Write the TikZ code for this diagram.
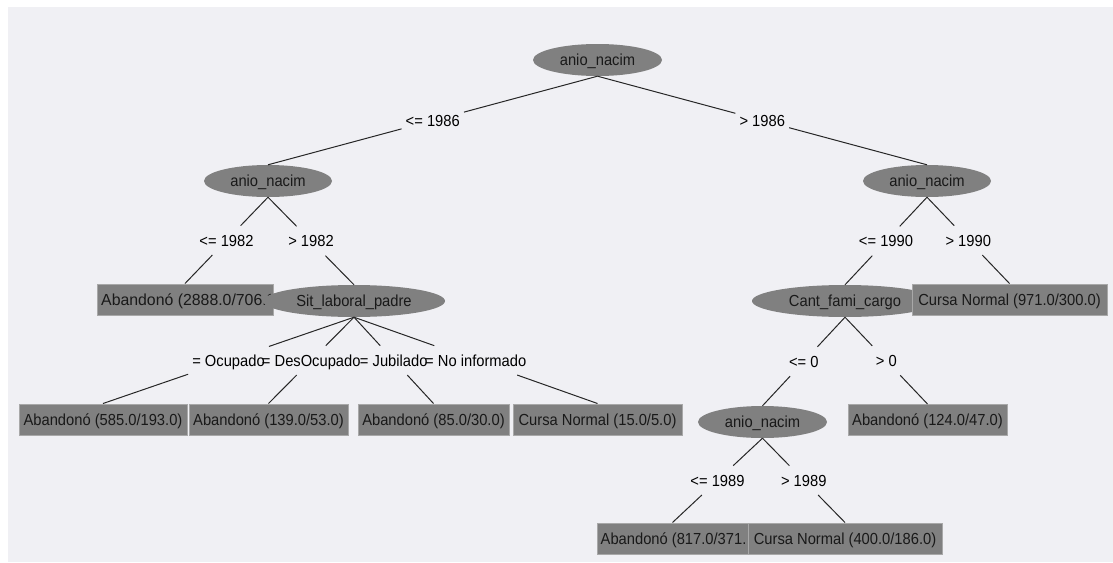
\documentclass[tikz,border=0pt]{standalone}
\usepackage{fontspec}
\setmainfont{Liberation Sans}[FakeStretch=0.92]
\newfontfamily\widefont{Liberation Sans}[FakeStretch=0.99]
\usetikzlibrary{shapes.geometric}
\definecolor{bgc}{RGB}{240,240,244}
\definecolor{nodegray}{RGB}{128,128,128}
\definecolor{boxline}{RGB}{168,168,168}
\definecolor{txt}{RGB}{25,25,25}
\newcommand\tbranch[4]{%
  \path (#1.south) -- (#2.north) node[lbl, midway] (#3) {#4};
  \draw[edgeline] (#1.south) -- (#3);
  \draw[edgeline] (#3) -- (#2.north);
}
\begin{document}
\begin{tikzpicture}[x=1pt,y=-1pt,
  every node/.style={font=\fontsize{16pt}{18pt}\selectfont, text=txt, text height=11.4pt, text depth=0pt},
  attr/.style={ellipse, fill=nodegray, inner sep=0pt, minimum height=32pt},
  leaf/.style={rectangle, fill=nodegray, draw=boxline, line width=1pt, inner sep=0pt, minimum height=31pt},
  cliptext/.style={anchor=west, inner sep=0pt},
  lbl/.style={inner xsep=4pt, inner ysep=0pt, minimum height=29pt, text=black},
  edgeline/.style={draw=black!85, line width=1pt}]
\useasboundingbox (0,0) rectangle (1113,562);
\fill[white] (0,0) rectangle (1113,562);
\fill[bgc] (8,7) rectangle (1113,562);

% internal nodes and leaves
\node[attr, minimum width=129pt] (n0) at (597.5,60) {anio\_nacim};
\node[attr, minimum width=128pt] (n1) at (268,181) {anio\_nacim};
\node[attr, minimum width=128pt] (n2) at (927,181) {anio\_nacim};

\node[leaf, minimum width=176pt] (b0) at (185,299.5) {};
\begin{scope}
  \clip (b0.south west) rectangle ([xshift=-3pt]b0.north east);
  \node[cliptext, font=\widefont\fontsize{16pt}{18pt}\selectfont] (b0t) at ([xshift=4.5pt]b0.west) {Abandonó (2888.0/706.0)};
\end{scope}
\node[attr, minimum width=182pt] (n3) at (354,301) {Sit\_laboral\_padre};

\node[leaf, minimum width=168pt] (b1) at (103,419.5) {Abandonó (585.0/193.0)};
\node[leaf, minimum width=159pt] (b2) at (268.5,419.5) {Abandonó (139.0/53.0)};
\node[leaf, minimum width=151pt] (b3) at (433.5,419.5) {Abandonó (85.0/30.0)};
\node[leaf, minimum width=169pt] (b4) at (597.5,419.5) {Cursa Normal (15.0/5.0)};

\node[attr, minimum width=186pt] (n4) at (845,301) {Cant\_fami\_cargo};
\node[leaf, minimum width=195pt] (b5) at (1009.5,299.5) {Cursa Normal (971.0/300.0)};

\node[attr, minimum width=129pt] (n5) at (762.5,422) {anio\_nacim};
\node[leaf, minimum width=159pt] (b6) at (927.5,420) {Abandonó (124.0/47.0)};

\node[leaf, minimum width=151pt] (b7) at (672.5,538.5) {};
\begin{scope}
  \clip (b7.south west) rectangle ([xshift=-3pt]b7.north east);
  \node[cliptext] (b7t) at ([xshift=4pt]b7.west) {Abandonó (817.0/371.0)};
\end{scope}
\node[leaf, minimum width=194pt] (b8) at (845,538.5) {Cursa Normal (400.0/186.0)};

% branches
\tbranch{n0}{n1}{l1}{<= 1986}
\tbranch{n0}{n2}{l2}{> 1986}
\tbranch{n1}{b0}{l3}{<= 1982}
\tbranch{n1}{n3}{l4}{> 1982}
\tbranch{n3}{b1}{l5}{= Ocupado}
\tbranch{n3}{b2}{l6}{= DesOcupado}
\tbranch{n3}{b3}{l7}{= Jubilado}
\tbranch{n3}{b4}{l8}{= No informado}
\tbranch{n2}{n4}{l9}{<= 1990}
\tbranch{n2}{b5}{l10}{> 1990}
\tbranch{n4}{n5}{l11}{<= 0}
\tbranch{n4}{b6}{l12}{> 0}
\tbranch{n5}{b7}{l13}{<= 1989}
\tbranch{n5}{b8}{l14}{> 1989}
\end{tikzpicture}
\end{document}
